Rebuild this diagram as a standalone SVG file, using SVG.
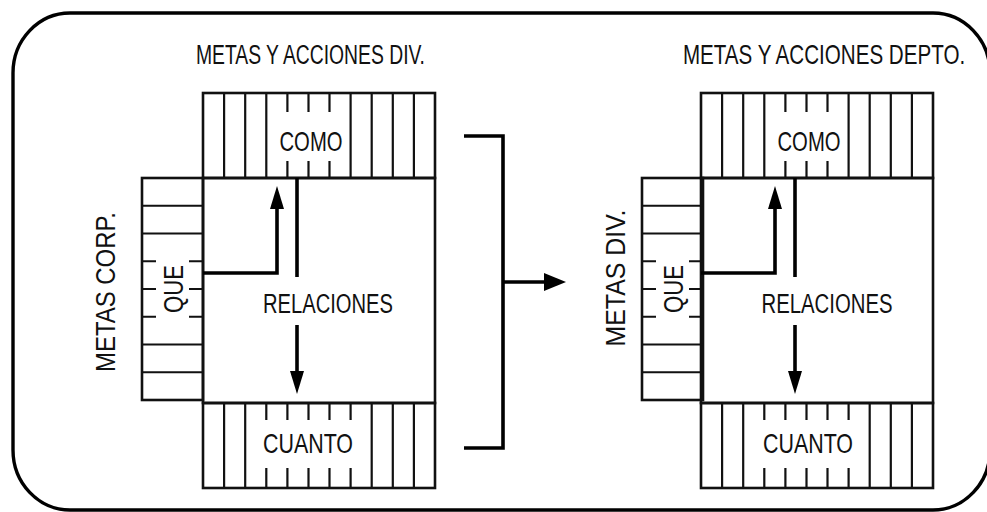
<svg xmlns="http://www.w3.org/2000/svg" width="987" height="512" viewBox="0 0 987 512">
<style>
.frame{fill:none;stroke:#000;stroke-width:3.4}
.box{fill:none;stroke:#111;stroke-width:2.6}
.ln{fill:none;stroke:#111;stroke-width:2.2}
.conn{fill:none;stroke:#000;stroke-width:3.6}
.head{fill:#000;stroke:none}
.t{font-family:"Liberation Sans",Arial,sans-serif;fill:#111;font-weight:normal}
.big{font-size:27px}
.mid{font-size:28px}
</style>
<rect width="987" height="512" fill="#fff"/>
<rect class="frame" x="13" y="13" width="977" height="497" rx="57" ry="60"/>

<g id="title-div"><text class="t big" x="310.5" y="64" text-anchor="middle" textLength="229" lengthAdjust="spacingAndGlyphs">METAS Y ACCIONES DIV.</text></g>
<g id="title-depto"><text class="t big" transform="translate(824,64) scale(0.763,1)" text-anchor="middle">METAS Y ACCIONES DEPTO.</text></g>

<g id="label-metas-corp"><text class="t big" transform="translate(115,292) rotate(-90)" text-anchor="middle" textLength="160" lengthAdjust="spacingAndGlyphs">METAS CORP.</text></g>
<g id="label-metas-div"><text class="t big" transform="translate(625,278) rotate(-90)" text-anchor="middle" textLength="137" lengthAdjust="spacingAndGlyphs">METAS DIV.</text></g>

<!-- LEFT MODULE -->
<g id="como-div">
<rect class="box" x="203" y="93" width="232" height="85"/>
<path class="ln" d="M224.1,93V178M245.2,93V178M266.3,93V178M350.6,93V178M371.7,93V178M392.8,93V178M413.9,93V178"/>
<path class="ln" d="M287.4,93V112M308.5,93V112M329.5,93V112M287.4,161V178M308.5,161V178M329.5,161V178"/>
<text class="t mid" x="311" y="151" text-anchor="middle" textLength="63" lengthAdjust="spacingAndGlyphs">COMO</text>
</g>
<g id="relaciones-div">
<rect class="box" x="203" y="178" width="232" height="225"/>
<text class="t big" x="328" y="313" text-anchor="middle" textLength="130" lengthAdjust="spacingAndGlyphs">RELACIONES</text>
</g>
<g id="cuanto-div">
<rect class="box" x="203" y="403" width="232" height="85"/>
<path class="ln" d="M224.1,403V488M245.2,403V488M371.7,403V488M392.8,403V488M413.9,403V488"/>
<path class="ln" d="M266.3,403V420M287.4,403V420M308.5,403V420M329.5,403V420M350.6,403V420M266.3,468V488M287.4,468V488M308.5,468V488M329.5,468V488M350.6,468V488"/>
<text class="t mid" x="308" y="453" text-anchor="middle" textLength="90" lengthAdjust="spacingAndGlyphs">CUANTO</text>
</g>
<g id="que-div">
<rect class="box" x="142" y="178" width="61" height="222"/>
<path class="ln" d="M142,205.75H203M142,233.5H203M142,344.5H203M142,372.25H203"/>
<path class="ln" d="M142,261.25H156M142,289H156M142,316.75H156M189,261.25H203M189,289H203M189,316.75H203"/>
<text class="t mid" transform="translate(183,289) rotate(-90)" text-anchor="middle" textLength="48" lengthAdjust="spacingAndGlyphs">QUE</text>
</g>

<!-- RIGHT MODULE -->
<g id="como-depto" transform="translate(498,0)">
<rect class="box" x="203" y="93" width="232" height="85"/>
<path class="ln" d="M224.1,93V178M245.2,93V178M266.3,93V178M350.6,93V178M371.7,93V178M392.8,93V178M413.9,93V178"/>
<path class="ln" d="M287.4,93V112M308.5,93V112M329.5,93V112M287.4,161V178M308.5,161V178M329.5,161V178"/>
<text class="t mid" x="311" y="151" text-anchor="middle" textLength="63" lengthAdjust="spacingAndGlyphs">COMO</text>
</g>
<g id="relaciones-depto" transform="translate(498,0)">
<rect class="box" x="203" y="178" width="232" height="225"/>
<text class="t big" x="329" y="313" text-anchor="middle" textLength="131" lengthAdjust="spacingAndGlyphs">RELACIONES</text>
</g>
<g id="cuanto-depto" transform="translate(498,0)">
<rect class="box" x="203" y="403" width="232" height="85"/>
<path class="ln" d="M224.1,403V488M245.2,403V488M371.7,403V488M392.8,403V488M413.9,403V488"/>
<path class="ln" d="M266.3,403V420M287.4,403V420M308.5,403V420M329.5,403V420M350.6,403V420M266.3,468V488M287.4,468V488M308.5,468V488M329.5,468V488M350.6,468V488"/>
<text class="t mid" x="310" y="453" text-anchor="middle" textLength="90" lengthAdjust="spacingAndGlyphs">CUANTO</text>
</g>
<g id="que-depto" transform="translate(500,0)">
<rect class="box" x="142" y="178" width="61" height="222"/>
<path class="ln" d="M142,205.75H203M142,233.5H203M142,344.5H203M142,372.25H203"/>
<path class="ln" d="M142,261.25H156M142,289H156M142,316.75H156M189,261.25H203M189,289H203M189,316.75H203"/>
<text class="t mid" transform="translate(183,289) rotate(-90)" text-anchor="middle" textLength="48" lengthAdjust="spacingAndGlyphs">QUE</text>
</g>

<g id="connectors">
<!-- left module -->
<path class="conn" d="M203,273H277V206"/>
<polygon class="head" points="277,186 270,209 284,209"/>
<path class="conn" d="M297,178V277"/>
<path class="conn" d="M297,325V373"/>
<polygon class="head" points="297,394 290,371 304,371"/>
<!-- right module -->
<path class="conn" d="M701,273H775V206"/>
<polygon class="head" points="775,186 768,209 782,209"/>
<path class="conn" d="M795,178V277"/>
<path class="conn" d="M795,325V373"/>
<polygon class="head" points="795,394 788,371 802,371"/>
<!-- bracket -->
<path class="conn" d="M464,136H503V448H464" stroke-width="4"/>
<path class="conn" d="M503,282H546"/>
<polygon class="head" points="566,282 544,273 544,291"/>
</g>
</svg>
